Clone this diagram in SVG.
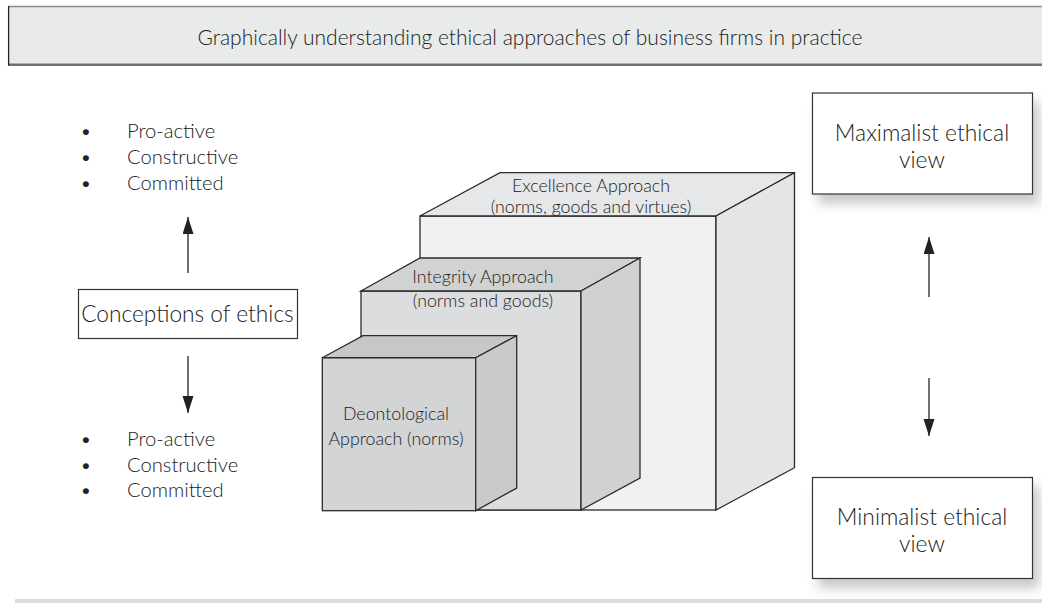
<svg xmlns="http://www.w3.org/2000/svg" width="1042" height="605" viewBox="0 0 1042 605">
  <style>
    text { font-family: Lato, "Open Sans", "Liberation Sans", sans-serif; font-weight: 300; fill: #222222; }
    .bul { font-size: 20.2px; }
    .cube { font-size: 17.8px; text-anchor: middle; }
    .view { font-size: 22.8px; text-anchor: middle; }
    .edge { stroke: #2b2b2b; stroke-width: 1.3; stroke-linejoin: miter; }
    .conn { stroke: #222222; stroke-width: 1.3; fill: none; marker-end: url(#head); }
    .box { fill: #ffffff; stroke: #333333; stroke-width: 1.2; }
  </style>
  <defs>
    <marker id="head" markerUnits="userSpaceOnUse" markerWidth="18" markerHeight="12" refX="17" refY="5.5" orient="auto">
      <path d="M0,0 L17,5.5 L0,11 z" fill="#222222"/>
    </marker>
    <filter id="soft" x="-20%" y="-20%" width="150%" height="160%">
      <feDropShadow dx="6" dy="9" stdDeviation="6" flood-color="#000000" flood-opacity="0.22"/>
    </filter>
  </defs>

  <rect width="1042" height="605" fill="#ffffff"/>

  <!-- header banner -->
  <g id="title">
    <rect x="8" y="6" width="1040" height="59" fill="#e9eaea"/>
    <line x1="8" y1="6.5" x2="1042" y2="6.5" stroke="#8a8a8a" stroke-width="1.5"/>
    <line x1="8" y1="63.6" x2="1042" y2="63.6" stroke="#a8a8a8" stroke-width="1"/>
    <line x1="8" y1="65" x2="1042" y2="65" stroke="#444444" stroke-width="1.5"/>
    <line x1="8.6" y1="6" x2="8.6" y2="65.5" stroke="#222222" stroke-width="1.3"/>
    <text x="530" y="45" text-anchor="middle" style="font-size:21px">Graphically understanding ethical approaches of business firms in practice</text>
  </g>

  <!-- upper list -->
  <g id="list-top">
    <text class="bul"><tspan x="80" y="138">•</tspan><tspan x="80" y="164">•</tspan><tspan x="80" y="190">•</tspan></text>
    <text class="bul"><tspan x="127" y="138">Pro-active</tspan><tspan x="127" y="164">Constructive</tspan><tspan x="127" y="190">Committed</tspan></text>
  </g>

  <!-- central concept -->
  <g id="conceptions">
    <rect x="78.5" y="289.5" width="219" height="49" class="box"/>
    <text x="187.5" y="322" text-anchor="middle" style="font-size:22.7px">Conceptions of ethics</text>
  </g>

  <!-- lower list -->
  <g id="list-bottom">
    <text class="bul"><tspan x="80" y="446">•</tspan><tspan x="80" y="472">•</tspan><tspan x="80" y="497">•</tspan></text>
    <text class="bul"><tspan x="127" y="446">Pro-active</tspan><tspan x="127" y="472">Constructive</tspan><tspan x="127" y="497">Committed</tspan></text>
  </g>

  <!-- largest block -->
  <g id="excellence">
    <rect x="420" y="216" width="296" height="294" fill="#f1f1f1" class="edge"/>
    <polygon points="420,216 500,172.7 794.5,172.7 716,216" fill="#e6e7e8" class="edge"/>
    <polygon points="716,216 794.5,172.7 794.5,467.7 716,510" fill="#e4e5e6" class="edge"/>
    <text class="cube"><tspan x="591" y="192">Excellence Approach</tspan><tspan x="591" y="213">(norms, goods and virtues)</tspan></text>
  </g>

  <!-- middle block -->
  <g id="integrity">
    <rect x="361" y="291" width="220" height="219" fill="#dcdddf" class="edge"/>
    <polygon points="361,291 420,258 640,258 581,291" fill="#d1d2d4" class="edge"/>
    <polygon points="581,291 640,258 640,478 581,510" fill="#d0d1d3" class="edge"/>
    <text class="cube"><tspan x="483" y="283">Integrity Approach</tspan><tspan x="483" y="307">(norms and goods)</tspan></text>
  </g>

  <!-- smallest block -->
  <g id="deontological">
    <rect x="322.3" y="357.7" width="153.4" height="153" fill="#d3d4d6" class="edge"/>
    <polygon points="322.3,357.7 363,335.7 516.7,335.7 475.7,357.7" fill="#c6c7c9" class="edge"/>
    <polygon points="475.7,357.7 516.7,335.7 516.7,488 475.7,510.7" fill="#c9cacc" class="edge"/>
    <text class="cube"><tspan x="396" y="420">Deontological</tspan><tspan x="396" y="445">Approach (norms)</tspan></text>
  </g>

  <!-- right-hand poles -->
  <g id="maximalist">
    <rect x="812.5" y="93" width="220" height="101" class="box" filter="url(#soft)"/>
    <text class="view"><tspan x="922" y="141">Maximalist ethical</tspan><tspan x="922" y="168">view</tspan></text>
  </g>
  <g id="minimalist">
    <rect x="812.5" y="477.5" width="220" height="101" class="box" filter="url(#soft)"/>
    <text class="view"><tspan x="922" y="524.5">Minimalist ethical</tspan><tspan x="922" y="551.5">view</tspan></text>
  </g>

  <!-- arrows -->
  <g id="connectors">
    <line x1="188" y1="273" x2="188" y2="217" class="conn"/>
    <line x1="188" y1="356" x2="188" y2="413" class="conn"/>
    <line x1="929" y1="297" x2="929" y2="237" class="conn"/>
    <line x1="929" y1="378" x2="929" y2="436" class="conn"/>
  </g>

  <!-- footer rule -->
  <rect x="15" y="599" width="1027" height="4" fill="#dcdcdc"/>
</svg>
